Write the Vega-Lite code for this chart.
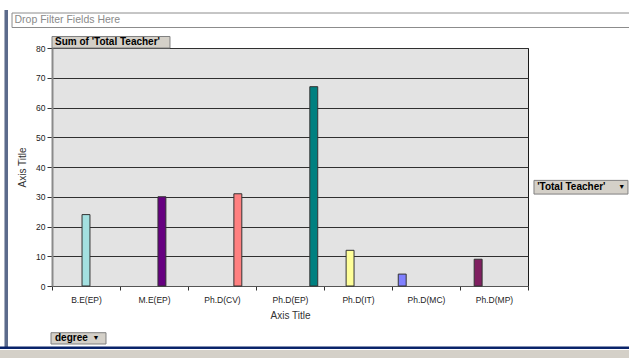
{
  "$schema": "https://vega.github.io/schema/vega-lite/v6.json",
  "width": 476,
  "height": 238,
  "autosize": {"type": "none"},
  "padding": {"left": 52, "top": 48, "right": 101, "bottom": 72},
  "background": "white",
  "config": {
    "font": "Liberation Sans",
    "view": {"fill": "#E3E3E3", "stroke": "#1a1a1a", "strokeWidth": 1}
  },
  "resolve": {"axis": {"x": "independent", "y": "independent"}},
  "layer": [
    {
      "data": {
        "values": [
          {"degree": "B.E(EP)", "total": 24},
          {"degree": "M.E(EP)", "total": 30},
          {"degree": "Ph.D(CV)", "total": 31},
          {"degree": "Ph.D(EP)", "total": 67},
          {"degree": "Ph.D(IT)", "total": 12},
          {"degree": "Ph.D(MC)", "total": 4},
          {"degree": "Ph.D(MP)", "total": 9}
        ]
      },
      "mark": {"type": "bar", "stroke": "#333333", "strokeWidth": 1},
      "encoding": {
        "x": {
          "field": "degree",
          "type": "nominal",
          "scale": {
            "domain": ["B.E(EP)", "M.E(EP)", "Ph.D(CV)", "Ph.D(EP)", "Ph.D(IT)", "Ph.D(MC)", "Ph.D(MP)"],
            "paddingInner": 0,
            "paddingOuter": 0
          },
          "axis": {
            "title": "Axis Title",
            "labelAngle": 0,
            "labelFontSize": 8.5,
            "labelColor": "#222222",
            "labelPadding": 5,
            "tickBand": "extent",
            "tickColor": "#333333",
            "tickSize": 4,
            "domainColor": "#555555",
            "titleFontSize": 10,
            "titleFontWeight": "normal",
            "titleColor": "#333333",
            "titlePadding": 7,
            "grid": false
          }
        },
        "xOffset": {
          "field": "degree",
          "type": "nominal",
          "scale": {
            "domain": ["Ph.D(MC)", "Ph.D(MP)", "Ph.D(IT)", "B.E(EP)", "M.E(EP)", "Ph.D(CV)", "Ph.D(EP)"],
            "paddingInner": 0,
            "paddingOuter": 0.79
          }
        },
        "y": {
          "field": "total",
          "type": "quantitative",
          "scale": {"domain": [0, 80], "nice": false},
          "axis": {
            "title": "Axis Title",
            "values": [0, 10, 20, 30, 40, 50, 60, 70, 80],
            "labelOverlap": false,
            "labelFontSize": 8.5,
            "labelColor": "#222222",
            "labelPadding": 2,
            "tickSize": 5,
            "tickColor": "#333333",
            "grid": true,
            "gridColor": "#303030",
            "gridOpacity": 1,
            "domainColor": "#8a8a8a",
            "domainWidth": 2,
            "titleFontSize": 10,
            "titleFontWeight": "normal",
            "titleColor": "#333333",
            "titlePadding": 8
          }
        },
        "color": {
          "field": "degree",
          "type": "nominal",
          "scale": {
            "domain": ["B.E(EP)", "M.E(EP)", "Ph.D(CV)", "Ph.D(EP)", "Ph.D(IT)", "Ph.D(MC)", "Ph.D(MP)"],
            "range": ["#A3E0E0", "#660080", "#FF8080", "#008080", "#FFFF99", "#8080FF", "#7F1F60"]
          },
          "legend": null
        }
      }
    },
    {
      "data": {"values": [{}]},
      "mark": {"type": "rect", "fill": "#5C6B8C"},
      "encoding": {
        "x": {"datum": "B.E(EP)", "type": "nominal", "bandPosition": -0.699, "axis": null},
        "x2": {"datum": "B.E(EP)", "bandPosition": -0.647},
        "y": {"datum": 92.77, "type": "quantitative", "axis": null},
        "y2": {"datum": -20.5}
      }
    },
    {
      "data": {"values": [{}]},
      "mark": {"type": "rect", "fill": "white", "stroke": "#8c8c8c", "strokeWidth": 1},
      "encoding": {
        "x": {"datum": "B.E(EP)", "type": "nominal", "bandPosition": -0.588, "axis": null},
        "x2": {"datum": "Ph.D(MP)", "bandPosition": 2.53},
        "y": {"datum": 91.76, "type": "quantitative", "axis": null},
        "y2": {"datum": 86.89}
      }
    },
    {
      "data": {"values": [{}]},
      "mark": {"type": "text", "text": "Drop Filter Fields Here", "align": "left", "baseline": "middle", "fontSize": 10.5, "color": "#8a8a8a"},
      "encoding": {
        "x": {"datum": "B.E(EP)", "type": "nominal", "bandPosition": -0.551, "axis": null},
        "y": {"datum": 89.31, "type": "quantitative", "axis": null}
      }
    },
    {
      "data": {"values": [{}]},
      "mark": {"type": "rect", "fill": "#D4D0C8", "stroke": "#808080", "strokeWidth": 1},
      "encoding": {
        "x": {"datum": "B.E(EP)", "type": "nominal", "bandPosition": 0.0, "axis": null},
        "x2": {"datum": "M.E(EP)", "bandPosition": 0.735},
        "y": {"datum": 83.87, "type": "quantitative", "axis": null},
        "y2": {"datum": 80.0}
      }
    },
    {
      "data": {"values": [{}]},
      "mark": {"type": "text", "text": "Sum of 'Total Teacher'", "align": "left", "baseline": "middle", "fontSize": 10, "fontWeight": "bold", "color": "black"},
      "encoding": {
        "x": {"datum": "B.E(EP)", "type": "nominal", "bandPosition": 0.044, "axis": null},
        "y": {"datum": 81.85, "type": "quantitative", "axis": null}
      }
    },
    {
      "data": {"values": [{}]},
      "mark": {"type": "rect", "fill": "#D4D0C8", "stroke": "#808080", "strokeWidth": 1},
      "encoding": {
        "x": {"datum": "Ph.D(MP)", "type": "nominal", "bandPosition": 1.088, "axis": null},
        "x2": {"datum": "Ph.D(MP)", "bandPosition": 2.47},
        "y": {"datum": 35.5, "type": "quantitative", "axis": null},
        "y2": {"datum": 30.9}
      }
    },
    {
      "data": {"values": [{}]},
      "mark": {"type": "text", "text": "'Total Teacher'", "align": "left", "baseline": "middle", "fontSize": 10, "fontWeight": "bold", "color": "black"},
      "encoding": {
        "x": {"datum": "Ph.D(MP)", "type": "nominal", "bandPosition": 1.135, "axis": null},
        "y": {"datum": 33.2, "type": "quantitative", "axis": null}
      }
    },
    {
      "data": {"values": [{}]},
      "mark": {"type": "text", "text": "▼", "align": "center", "baseline": "middle", "fontSize": 7, "color": "black"},
      "encoding": {
        "x": {"datum": "Ph.D(MP)", "type": "nominal", "bandPosition": 2.38, "axis": null},
        "y": {"datum": 33.2, "type": "quantitative", "axis": null}
      }
    },
    {
      "data": {"values": [{}]},
      "mark": {"type": "rect", "fill": "#D4D0C8", "stroke": "#808080", "strokeWidth": 1},
      "encoding": {
        "x": {"datum": "B.E(EP)", "type": "nominal", "bandPosition": -0.0147, "axis": null},
        "x2": {"datum": "B.E(EP)", "bandPosition": 0.794},
        "y": {"datum": -15.7, "type": "quantitative", "axis": null},
        "y2": {"datum": -19.5}
      }
    },
    {
      "data": {"values": [{}]},
      "mark": {"type": "text", "text": "degree", "align": "left", "baseline": "middle", "fontSize": 10, "fontWeight": "bold", "color": "black"},
      "encoding": {
        "x": {"datum": "B.E(EP)", "type": "nominal", "bandPosition": 0.044, "axis": null},
        "y": {"datum": -17.58, "type": "quantitative", "axis": null}
      }
    },
    {
      "data": {"values": [{}]},
      "mark": {"type": "text", "text": "▼", "align": "center", "baseline": "middle", "fontSize": 7, "color": "black"},
      "encoding": {
        "x": {"datum": "B.E(EP)", "type": "nominal", "bandPosition": 0.647, "axis": null},
        "y": {"datum": -17.58, "type": "quantitative", "axis": null}
      }
    },
    {
      "data": {"values": [{}]},
      "mark": {"type": "rect", "fill": "#0A246A"},
      "encoding": {
        "x": {"datum": "B.E(EP)", "type": "nominal", "bandPosition": -0.77, "axis": null},
        "x2": {"datum": "Ph.D(MP)", "bandPosition": 2.53},
        "y": {"datum": -20.34, "type": "quantitative", "axis": null},
        "y2": {"datum": -21.18}
      }
    },
    {
      "data": {"values": [{}]},
      "mark": {"type": "rect", "fill": "#D4D0C8"},
      "encoding": {
        "x": {"datum": "B.E(EP)", "type": "nominal", "bandPosition": -0.77, "axis": null},
        "x2": {"datum": "Ph.D(MP)", "bandPosition": 2.53},
        "y": {"datum": -21.51, "type": "quantitative", "axis": null},
        "y2": {"datum": -24.5}
      }
    }
  ]
}
